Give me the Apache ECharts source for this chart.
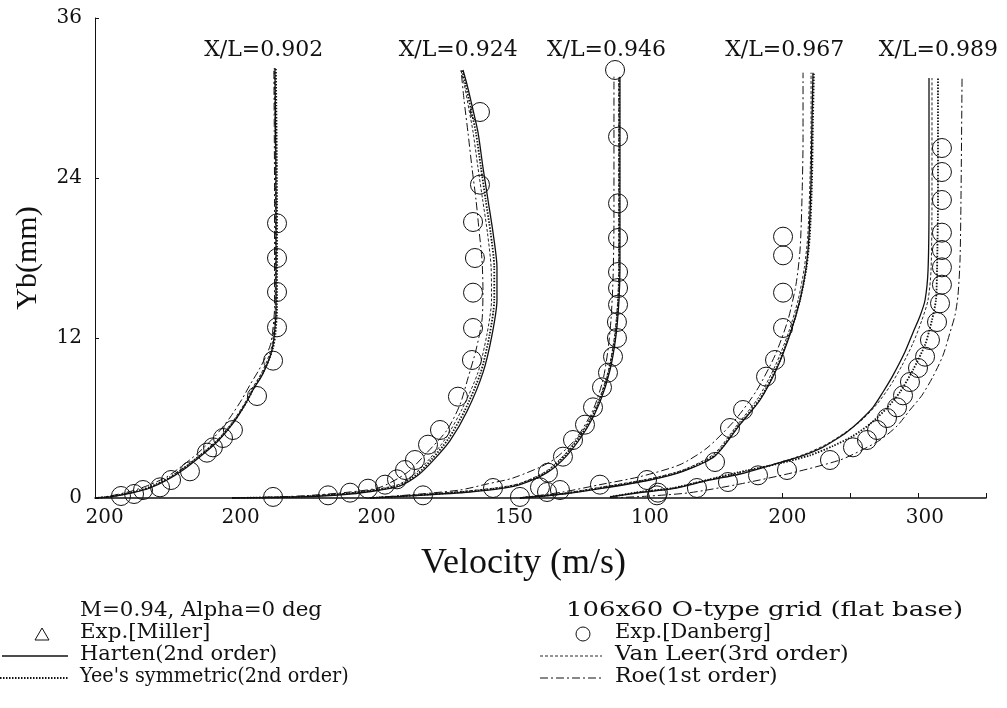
<!DOCTYPE html>
<html><head><meta charset="utf-8">
<script src="https://cdn.jsdelivr.net/npm/echarts@6/dist/echarts.min.js"></script>
<style>html,body{margin:0;padding:0;background:#fff}#c{width:1007px;height:708px}</style>
</head><body><div id="c"></div>
<script>
// ---- tick labels / annotations ----
const yTicks = [0, 12, 24, 36];
const xTickValues = [-298, -198, -98, 3, 103, 204, 305];
const xTickLabels = ['200', '200', '200', '150', '100', '200', '300'];
const xTickMarks = [200, 250, 300, 350];
const profileLabels = ['X/L=0.902', 'X/L=0.924', 'X/L=0.946', 'X/L=0.967', 'X/L=0.989'];
const profileLabelX = [-181, -38, 71, 202, 315];
const profileLabelY = 33.6;

// ---- Harten (2nd order), one array per station, [shifted velocity, Yb] ----
const harten = [
  [[-305,0],[-294,0.08],[-277,0.4],[-264.6,0.75],[-252,1.35],[-240.3,2.1],[-227.8,3.1],[-215.3,4.2],[-203.6,5.6],[-194.7,7.0],[-188.9,8.1],[-182.2,9.2],[-177.8,10.2],[-174.9,11.1],[-173.4,12.0],[-171.9,14.1],[-171.9,22.35],[-172.7,32.25]],
  [[-204.3,0],[-154.3,0.08],[-117.5,0.3],[-95.5,0.6],[-80.8,0.9],[-67.6,1.7],[-56.5,2.8],[-44,4.3],[-31.5,6.5],[-19.8,9.4],[-13.2,12.2],[-9.5,14.85],[-9.5,17.3],[-12.4,19.9],[-16.1,22.35],[-19.8,24.8],[-23.4,27.4],[-27.1,29.1],[-31.5,31.0],[-34.5,32.1]],
  [[-102.8,0],[-66.1,0.2],[-29.3,0.45],[-7.3,0.7],[7.4,1.0],[27.3,1.9],[42,3.2],[56.7,5.25],[66.2,7.2],[73.6,9.6],[78,12.2],[80.2,14.85],[80.9,17.3],[80.9,22.35],[80.9,26.85],[80.9,31.6]],
  [[7.4,0],[39,0.3],[66.2,0.7],[103,1.35],[127.2,2.0],[150.8,3.15],[169.1,5.5],[183.9,7.35],[196.4,9.75],[206,12.3],[213.3,14.85],[217.7,17.25],[219.9,19.7],[221.4,23.85],[222.1,28.35],[222.8,31.9]],
  [[73.6,0.08],[95.6,0.4],[119.9,0.7],[144.9,1.3],[169.1,1.8],[193.4,2.5],[213.3,3.1],[228,3.7],[239,4.35],[247.8,4.95],[257.4,5.8],[266.9,6.8],[274.3,7.95],[281.6,9.2],[290.4,10.95],[296.3,12.4],[301.5,13.65],[305.2,14.85],[307.4,17.1],[308.1,22.35],[308.1,31.5]]
];

// ---- Yee's symmetric (2nd order) ----
const yee = [
  [[-305,0],[-294,0.1],[-277,0.45],[-264,0.85],[-251,1.5],[-239,2.3],[-226.5,3.3],[-214,4.4],[-202.5,5.8],[-193.5,7.2],[-188,8.3],[-181.5,9.4],[-177,10.4],[-174,11.3],[-172.5,12.2],[-171.2,14.2],[-171.2,22.35],[-172,32.25]],
  [[-204.3,0],[-154.3,0.1],[-117.5,0.35],[-95.5,0.65],[-81,0.95],[-68,1.8],[-57.5,2.9],[-45.5,4.4],[-33,6.6],[-21.5,9.4],[-15,12.2],[-11.5,14.85],[-11.5,17.3],[-14.2,19.9],[-17.8,22.35],[-21.3,24.8],[-25,27.4],[-28.5,29.1],[-32.5,31.0],[-35.2,32.1]],
  [[-102.8,0],[-66.1,0.22],[-29.3,0.5],[-7.3,0.75],[7.4,1.05],[27,1.95],[41.5,3.3],[56,5.3],[65.6,7.2],[73,9.6],[77.5,12.2],[79.7,14.85],[80.4,17.3],[80.4,22.35],[80.4,26.85],[80.4,31.6]],
  [[7.4,0],[39,0.32],[66.2,0.75],[103,1.4],[127.2,2.05],[150.5,3.2],[168.5,5.5],[183.3,7.35],[196,9.75],[205.8,12.3],[213.3,14.85],[218,17.25],[220.5,19.7],[222.1,23.85],[222.8,28.35],[223.5,31.9]],
  [[73.6,0.08],[95.6,0.45],[119.9,0.75],[144.9,1.35],[169.1,1.95],[198.6,2.6],[220.6,3.2],[237.5,3.9],[252.2,4.65],[264.7,5.55],[277.2,6.75],[286.8,7.95],[296.3,9.6],[305.2,11.5],[310.3,13.35],[313.2,14.85],[314,17.1],[314.7,22.35],[314.7,31.5]]
];

// ---- Van Leer (3rd order) ----
const vanLeer = [
  [[-305,0],[-294,0.08],[-277,0.42],[-264.6,0.8],[-252,1.4],[-240.5,2.2],[-228,3.2],[-215.5,4.3],[-204,5.7],[-195,7.1],[-189.5,8.2],[-183,9.3],[-178.5,10.3],[-175.5,11.2],[-174,12.1],[-172.5,14.1],[-172.3,22.35],[-173.2,32.25]],
  [[-204.3,0],[-154.3,0.12],[-117.5,0.38],[-95.5,0.7],[-81,1.05],[-69,1.9],[-58.5,3.0],[-47,4.5],[-35,6.7],[-23.5,9.4],[-17,12.2],[-13.5,14.85],[-13.8,17.3],[-16.5,19.9],[-20,22.35],[-23.5,24.8],[-27,27.4],[-30,29.1],[-33.5,31.0],[-36,32.1]],
  [[-102.8,0],[-66.1,0.25],[-29.3,0.55],[-7.3,0.8],[7.4,1.1],[26.5,2.0],[41,3.35],[55.5,5.35],[65,7.25],[72.5,9.6],[77,12.2],[79.3,14.85],[80,17.3],[80,22.35],[80,26.85],[80,31.6]],
  [[7.4,0],[39,0.35],[66.2,0.8],[103,1.45],[127.2,2.1],[150,3.3],[168,5.6],[182.5,7.5],[195,9.9],[204.8,12.4],[212,14.9],[216.5,17.3],[219,19.7],[220.6,23.85],[221.4,28.35],[221.4,31.9]],
  [[73.6,0.08],[95.6,0.45],[119.9,0.75],[144.9,1.35],[169.1,1.9],[196.4,2.6],[217,3.3],[233.1,4.05],[246.3,4.9],[258.8,5.85],[269.9,7.05],[279.5,8.4],[288.3,9.95],[296.3,11.6],[302.9,13.35],[307.4,14.85],[309.6,17.1],[310.3,22.35],[310.3,31.5]]
];

// ---- Roe (1st order) ----
const roe = [
  [[-305,0],[-294,0.15],[-277,0.55],[-264.6,1.0],[-252,1.6],[-241,2.4],[-229,3.4],[-217,4.6],[-206,6.0],[-197,7.4],[-191,8.5],[-184.5,9.6],[-179.5,10.6],[-176,11.5],[-174.5,12.4],[-173,14.3],[-173,22.35],[-173.5,32.25]],
  [[-204.3,0],[-154.3,0.15],[-117.5,0.45],[-95.5,0.8],[-75.6,1.9],[-61,3.4],[-46.2,5.1],[-36.7,7.0],[-30.8,9.0],[-24.9,11.1],[-20.5,13.35],[-19.8,15.6],[-20.5,17.85],[-22.7,20.1],[-24.9,22.35],[-27.9,24.8],[-30.8,27.4],[-33.7,29.85],[-35.9,32.1]],
  [[-102.8,0],[-66.1,0.3],[-36.7,0.6],[-16.8,1.05],[2.3,1.5],[29.5,2.7],[47.8,4.35],[61.1,6.6],[68.4,8.85],[72.1,11.1],[74.3,13.35],[75.8,16.35],[76.5,20.85],[76.5,26.1],[76.5,31.6]],
  [[7.4,0],[39,0.45],[66.2,1.0],[95.6,1.6],[125,2.5],[144.9,3.75],[165.5,5.85],[181.6,8.1],[194.9,10.7],[204.4,13.35],[210.3,16.0],[213.3,18.6],[214.7,22.35],[215.5,26.85],[215.5,31.9]],
  [[73.6,0],[103,0.15],[132.4,0.4],[169.1,1.05],[208.1,1.9],[242.7,2.85],[258.8,3.6],[272.1,4.35],[284.6,5.4],[294.1,6.6],[302.9,7.7],[311,9.1],[318.4,10.7],[323.5,12.4],[327.2,13.7],[329.4,15.2],[330.9,17.85],[331.6,22.35],[332.4,31.5]]
];

// ---- Exp. [Danberg] circles ----
const danberg = [
  [[-171.2,20.6],[-171.2,18.0],[-171.2,15.45],[-171.2,12.8],[-174.1,10.3],[-185.9,7.65],[-203.6,5.1],[-210.9,4.5],[-218.3,3.8],[-222.7,3.4],[-235.2,2.0],[-249.1,1.35],[-257.2,0.8],[-269.7,0.6],[-276.3,0.3],[-285.9,0.15]],
  [[-22,28.95],[-22,23.5],[-27.1,20.7],[-25.7,18.0],[-27.1,15.4],[-27.1,12.75],[-27.9,10.35],[-38.2,7.6],[-51.4,5.1],[-60.2,4.0],[-69.8,2.85],[-77.1,2.1],[-83,1.4],[-91.8,1.0],[-104.3,0.7],[-117.5,0.4],[-133.7,0.2],[-174.1,0.08]],
  [[77.3,32.1],[79.5,27.1],[79.5,22.1],[79.5,19.5],[79.5,16.95],[79.5,15.75],[79.5,14.5],[78.7,13.2],[78.7,12.0],[75.8,10.6],[72.1,9.4],[67.7,8.3],[61.1,6.8],[55.2,5.5],[46.4,4.35],[39,3.1],[28,1.9],[22.1,0.8],[27.3,0.45],[36.8,0.6],[7.4,0.08],[-12.4,0.75],[-63.9,0.2]],
  [[200.8,19.6],[200.8,18.2],[200.8,15.4],[200.8,12.75],[194.9,10.35],[188.3,9.1],[171.4,6.6],[161.8,5.25],[150.8,2.7],[137.5,0.75],[100.8,1.35],[66.2,1.0],[108.1,0.2]],
  [[317.6,26.25],[317.6,24.45],[317.6,22.35],[317.6,19.9],[317.6,18.6],[317.6,17.3],[317.6,16.0],[316.2,14.6],[314,13.2],[308.8,11.85],[305.2,10.6],[300,9.75],[294.1,8.7],[289,7.7],[284.6,6.8],[277.2,6.0],[269.9,5.1],[262.5,4.35],[252.2,3.8],[235.3,2.85],[203.7,2.1],[182.4,1.7],[160.3,1.2],[108.8,0.4]]
];

// join stations with breaks
function joinProfiles(list) {
  const out = [];
  list.forEach((p, i) => { if (i) out.push('-'); p.forEach(pt => out.push(pt)); });
  return out;
}

const INK = '#111';
const serif = '"Liberation Serif", "DejaVu Serif", serif';
const numFont = '"DejaVu Serif", serif';

const chart = echarts.init(document.getElementById('c'), null, { renderer: 'canvas' });

function lineSeries(name, list, type, width) {
  return {
    name, type: 'line', data: joinProfiles(list), showSymbol: false, symbol: 'none',
    smooth: 0.25, connectNulls: false, animation: false, silent: true,
    lineStyle: { color: INK, width: width, type: type }, z: 3
  };
}

const legendFont = '20px "DejaVu Serif", serif';
function legendText(text, x, y, sx) {
  return { type: 'text', x: x, y: y, scaleX: sx, style: { text: text, font: legendFont, fill: INK, align: 'left', verticalAlign: 'top' } };
}

chart.setOption({
  animation: false,
  backgroundColor: '#fff',
  grid: { left: 95, right: 21, top: 18, bottom: 210, containLabel: false },
  xAxis: {
    type: 'value', min: -305, max: 350,
    name: 'Velocity (m/s)', nameLocation: 'middle', nameGap: 48,
    nameTextStyle: { fontFamily: serif, fontSize: 36, color: INK, padding: [0, 34, 0, 0] },
    axisLine: { show: true, onZero: false, lineStyle: { color: INK, width: 1.5 } },
    axisTick: { show: true, inside: true, length: 5, customValues: xTickMarks, lineStyle: { color: INK } },
    axisLabel: {
      show: true, customValues: xTickValues, margin: 10, color: INK, fontFamily: numFont, fontSize: 20,
      formatter: v => { const i = xTickValues.indexOf(v); return i >= 0 ? xTickLabels[i] : ''; }
    },
    splitLine: { show: false }
  },
  yAxis: {
    type: 'value', min: 0, max: 36, interval: 12,
    name: 'Yb(mm)', nameLocation: 'middle', nameGap: 52, nameRotate: 90,
    nameTextStyle: { fontFamily: serif, fontSize: 30, color: INK },
    axisLine: { show: true, onZero: false, lineStyle: { color: INK, width: 1 } },
    axisTick: { show: true, inside: true, length: 4, lineStyle: { color: INK } },
    axisLabel: { margin: 13, color: INK, fontFamily: numFont, fontSize: 20 },
    splitLine: { show: false }
  },
  series: [
    lineSeries('Harten(2nd order)', harten, 'solid', 1.3),
    lineSeries("Yee's symmetric(2nd order)", yee, [1.5, 1.5], 1.8),
    lineSeries('Van Leer(3rd order)', vanLeer, [3, 2], 0.9),
    lineSeries('Roe(1st order)', roe, [8, 3, 2, 3], 1),
    {
      name: 'Exp.[Danberg]', type: 'scatter', silent: true, z: 4,
      data: joinProfiles(danberg).filter(d => d !== '-'),
      symbol: 'circle', symbolSize: 19,
      itemStyle: { color: 'rgba(0,0,0,0)', borderColor: INK, borderWidth: 1, opacity: 1 }
    },
    {
      name: 'stations', type: 'scatter', silent: true, symbolSize: 0,
      itemStyle: { opacity: 1 },
      data: profileLabels.map((t, i) => ({ name: t, value: [profileLabelX[i], profileLabelY] })),
      label: { show: true, position: 'inside', formatter: p => p.name, color: INK, fontFamily: numFont, fontSize: 22, opacity: 1 }
    }
  ],
  graphic: [
    legendText('M=0.94, Alpha=0 deg', 80, 601, 1.07),
    { type: 'polygon', shape: { points: [[35, 640], [49, 640], [42, 628]] }, style: { fill: 'none', stroke: INK, lineWidth: 1 } },
    legendText('Exp.[Miller]', 80, 623, 1.07),
    { type: 'line', shape: { x1: 2, y1: 656, x2: 68, y2: 656 }, style: { stroke: INK, lineWidth: 1.3 } },
    legendText('Harten(2nd order)', 80, 645, 1.05),
    { type: 'line', shape: { x1: 0, y1: 678, x2: 68, y2: 678 }, style: { stroke: INK, lineWidth: 1.8, lineDash: [1.5, 1.5] } },
    legendText("Yee's symmetric(2nd order)", 80, 667, 0.96),
    legendText('106x60 O-type grid (flat base)', 566, 601, 1.3),
    { type: 'circle', shape: { cx: 583, cy: 634, r: 7 }, style: { fill: 'none', stroke: INK, lineWidth: 1 } },
    legendText('Exp.[Danberg]', 615, 623, 1.05),
    { type: 'line', shape: { x1: 540, y1: 656, x2: 602, y2: 656 }, style: { stroke: INK, lineWidth: 0.9, lineDash: [3, 2] } },
    legendText('Van Leer(3rd order)', 615, 645, 1.15),
    { type: 'line', shape: { x1: 540, y1: 678, x2: 602, y2: 678 }, style: { stroke: INK, lineWidth: 1, lineDash: [8, 3, 2, 3] } },
    legendText('Roe(1st order)', 615, 667, 1.1)
  ]
});
</script>
</body></html>
